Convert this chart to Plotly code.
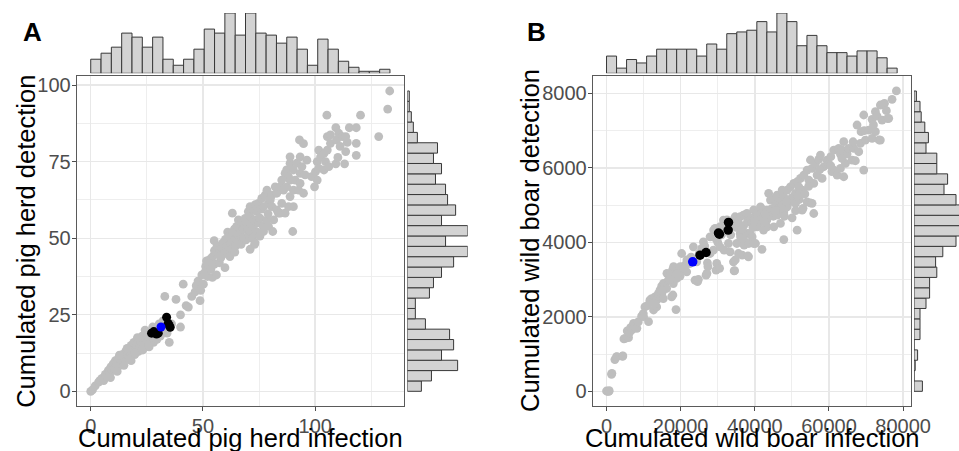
import plotly.graph_objects as go

# ---------------- Panel A : pig herds ----------------
pig_inf = [0, 0.8, 2, 3.5, 4.2,
           5, 5.8, 6.5, 7.2, 7.8, 8.5, 9,
           9.5, 10, 10.5, 11, 11.5, 12, 12.5, 13, 13.5,
           14, 14.5, 15, 15.5, 16, 16.5, 16.8, 17, 17.5, 18, 18, 18.3,
           18.8, 19.2, 19.6, 20, 20.5, 21, 21.3, 21.8, 22.2, 22.6, 22.9,
           23.5, 24, 24.5, 25, 25.5, 26, 26.5, 27,
           28, 28.5, 29, 29.5, 30, 30.5, 31, 32, 32.2,
           33, 34, 35, 36,
           38, 40, 40,
           41.2, 42.5, 43.5, 45,
           46.5, 47, 47.8, 48.7, 49, 49.5, 50.2,
           50.8, 51.2, 51.6, 52, 52.4, 53, 53.5, 53.9, 54.2, 54.6, 55, 55, 55.1,
           55.5, 56, 56.3, 56.8, 57.3, 57.6, 58, 58.3, 58.8, 59.1, 59.5, 59.8,
           60, 60.5, 60.8, 61, 61.3, 61.5, 62, 62.3, 62.8, 62.8, 63, 63.1, 63.5, 63.7, 64, 64.2, 64.3, 64.4,
           65, 65, 65.5, 65.8, 66.5, 67, 67.3, 67.8, 68, 68.2, 68.8,
           69.2, 69.5, 70, 70.2, 70.5, 71, 71, 71, 71, 71.5, 72, 72.5, 72.5, 72.8, 73, 73.2, 73.3, 73.5,
           74, 74.2, 74.7, 74.7, 75.4, 75.4, 76, 76.2, 76.8, 77, 77, 77.7,
           78.5, 78.5, 79, 79.2, 79.2, 80, 80.7, 80.7, 81.1, 81.5, 82.2,
           82.9, 82.9, 83.6, 84.4, 84.4, 85.1, 85.1, 85.9, 86.6, 86.6,
           87.3, 87.3, 88.1, 88.1, 88.8, 88.8, 88.8, 88.8, 90, 90.3, 90.3, 90.3, 91.1, 91.8,
           92.6, 93.3, 93.3, 93.3, 93, 94.1, 94.8, 94.8, 95.5, 96.3,
           98.4, 99.7, 100.1,
           100.9, 100.9, 101.6, 101.6, 102.4, 103.9, 103.9, 104.6, 105.4, 105.4, 105.2,
           106.1, 106.8, 106.8, 109.2, 109.2, 109.5, 110.1,
           110.5, 111.1, 112.1, 113.1, 113.6, 113.6, 114.3,
           115.2, 118.3, 118.3, 118.3, 120.2, 128.3, 132.3, 133.2,
           8.8, 11.8, 14.8, 17.2, 19.8, 23.2, 25.8, 12.8, 16.2, 20.8, 24.2, 27.6, 30.8]
pig_det = [0, 0.5, 1.8, 3, 3.6,
           4.2, 3.5, 5.5, 4.8, 6.8, 6, 8,
           7, 9, 7.5, 10, 8.2, 9.5, 11, 8.5, 10,
           12, 9.5, 11, 13, 10.5, 12, 14, 11, 13, 15, 10, 12.5,
           14, 16, 12, 13.5, 15, 17, 13, 15.5, 16.5, 14, 18,
           15, 17, 19, 16, 18, 14.5, 17, 19,
           16, 18, 20, 17, 19.5, 22, 18, 20.5, 23,
           31, 19, 16, 22,
           30, 21, 25,
           35, 28, 27.5, 31,
           32.5, 34.5, 36, 29.6, 33, 38, 35,
           38.8, 40.8, 42.6, 37.5, 40.9, 43, 39.9, 43.7, 37.2, 44.2, 49.2, 41.5, 46,
           45.3, 38, 47.5, 44.8, 42, 46.4, 43.7, 46.9, 48.5, 47.4, 45, 40.4,
           49.6, 47, 45.5, 52, 47.4, 50.5, 44, 48, 49.1, 50.1, 46.5, 58.2, 51.7, 48.5, 53, 45.5, 50, 47.3,
           49.6, 53.9, 51.3, 56, 51.7, 48, 55, 53, 52.8, 50, 56.5,
           49.5, 55, 53, 58.7, 51, 46.4, 52.2, 57.1, 60.3, 54.5, 50, 53.9, 59.3, 56, 48, 48.5, 61, 55.5,
           58.7, 52, 55, 61.4, 50.7, 56.6, 59.5, 63, 54, 52.2, 60.3, 64.1,
           56, 65.7, 58, 53.9, 61.4, 62.5, 60.3, 64.1, 52.2, 56, 66.8,
           59.3, 64.7, 58.2, 58.2, 66.8, 61.4, 69, 65.7, 58.2, 71.2,
           66.8, 72.3, 60.3, 70.1, 63.6, 69, 74.5, 76.6, 52.2, 65.7, 72.3, 60.3, 69, 74.5,
           65.7, 67.9, 71.2, 76.6, 82.1, 73.4, 64.7, 80.9, 70.7, 75.5,
           70.1, 66.8, 71.7,
           69, 75, 72.8, 78.8, 76.6, 72.3, 77.7, 75, 78.8, 83.2, 90.2,
           73.4, 81, 83.8, 74.3, 86.1, 82.1, 76.4,
           84.3, 80, 83.2, 74.3, 83.2, 78.3, 81.3,
           86.1, 86.1, 81, 77.1, 90.2, 83.2, 92.2, 98.1,
           4.5, 6.5, 8.5, 10.5, 12.5, 13.5, 14.8, 11.8, 14, 17.5, 20, 21, 21.5]
pig_black_inf = [27.1, 28.1, 29.3, 30.1, 33.8, 34.5, 35.4, 35.0]
pig_black_det = [19.0, 19.5, 18.7, 19.0, 24.2, 22.2, 20.9, 21.5]
pig_blue_inf = [31.3]
pig_blue_det = [21.0]

# marginal histograms (counts)
pig_inf_counts = [7, 10, 13, 20, 18, 13, 18, 7, 4, 7, 12, 22, 20, 30, 19,
                  30, 20, 19, 15, 18, 12, 4, 17, 12, 6, 3, 1, 1, 2]
pig_inf_bin_start, pig_inf_bin_width = 0.0, 4.597
pig_det_counts = [7, 12, 25, 17, 23, 21, 9, 4, 4, 11, 13, 17, 23, 30, 19,
                  30, 17, 24, 20, 19, 14, 17, 13, 15, 5, 3, 2, 1, 1]   # bottom -> top
pig_det_bin_start, pig_det_bin_width = 0.0, 3.383

# ---------------- Panel B : wild boar ----------------
boar_inf = [0, 300, 630, 720, 1350, 1440, 2250, 2700, 2790, 4320,
            4410, 4690, 5040, 5590, 5940, 6130, 6490, 6840, 7210, 7290,
            8190, 8560, 9460, 9910, 9990, 10360, 11330, 11710, 12160, 12610,
            12680, 13070, 13520, 13590, 13970, 14420, 14870, 14930, 15320, 15380,
            15770, 16220, 16290, 16670, 17120, 17570, 17840, 17900, 18020, 18090,
            18740, 18920, 19370, 19820, 19880, 20270, 20720, 21170, 21620, 21680,
            22070, 22530, 22800, 23430, 23880, 24330, 24560, 24780, 25000, 25680,
            26130, 26500, 26850, 27080, 27210, 27350, 27930, 27930, 28830, 28880,
            29280, 29500, 29550, 29730, 30000, 30500, 30630, 30680, 31000, 31540,
            31720, 32000, 32480, 32890, 33000, 33340, 33800, 34240, 34420, 34280,
            34550, 34690, 34730, 35000, 35140, 35500, 35590, 36040, 36080, 36140,
            36590, 36940, 37000, 37040, 37120, 37880, 37940, 38000, 38150, 38290,
            38380, 38740, 39000, 39190, 39280, 39640, 39680, 40000, 40180, 40540,
            40630, 40800, 41000, 41530, 41530, 41930, 42000, 42350, 42430, 42880,
            43250, 43250, 43320, 43320, 43730, 43800, 44220, 44220, 44500, 45000,
            45120, 45120, 45570, 46020, 46020, 46500, 46920, 46920, 47370, 47500,
            47820, 47820, 47820, 48000, 48720, 48720, 49000, 49600, 49600, 50000,
            50060, 50510, 50960, 50960, 51000, 51410, 51410, 51860, 52000, 52310,
            52760, 52760, 53000, 53210, 53500, 54100, 54100, 54560, 54950, 55000,
            55440, 55450, 55900, 55900, 56350, 56800, 57250, 57700, 58150, 58600,
            59500, 60000, 60500, 60800, 61290, 61290, 62190, 62640, 63090, 63090,
            63520, 63990, 63990, 64440, 64890, 65340, 66240, 66690, 67130, 67580,
            68030, 68480, 68660, 69380, 69380, 69830, 70730, 71630, 71630, 72530,
            72530, 72980, 73500, 73870, 73870, 74320, 74770, 74970, 75490, 75840,
            76120, 77020, 78190,
            11000, 13000, 15000, 17000, 19000, 21000, 33500, 36500, 39500, 42500,
            45500, 48500, 51500, 54500, 57500, 60500, 63500, 66500, 69500, 72000]
boar_det = [9, 0, 0, 18, 457, 483, 851, 923, 930, 941,
            949, 1407, 1423, 1622, 1441, 1568, 1711, 1647, 1774, 1826,
            1691, 1864, 2016, 2088, 2005, 2267, 1870, 2446, 2491, 2401,
            2183, 2536, 2267, 2452, 2625, 2715, 2822, 2631, 2491, 2900,
            2894, 2760, 3168, 2984, 3118, 2536, 3270, 2586, 2894, 3347,
            2195, 3029, 3208, 3091, 3347, 3700, 3252, 3387, 3208, 3526,
            3521, 3432, 3600, 3880, 2984, 3477, 2944, 3002, 3700, 3835,
            4014, 3900, 3118, 3168, 3450, 3347, 4148, 3700, 3790, 4331,
            4372, 4100, 3252, 3432, 4000, 3302, 3880, 4421, 4200, 4597,
            3790, 4300, 4600, 3969, 4450, 3745, 4520, 3476, 3235, 4600,
            3240, 4686, 3526, 4400, 3969, 4550, 3700, 4238, 4689, 4147,
            3655, 4731, 4450, 4058, 3924, 4779, 4237, 4550, 3633, 3611,
            3968, 4238, 4650, 4507, 4147, 3969, 4868, 4600, 3968, 4776,
            4416, 4700, 4500, 4595, 4954, 3812, 4650, 4328, 4864, 4685,
            4597, 4865, 4416, 4819, 5316, 4700, 4774, 5133, 4900, 4700,
            4416, 5178, 4998, 4730, 5267, 4900, 4506, 5088, 5402, 5000,
            4075, 4819, 5222, 4700, 4954, 5402, 5050, 5133, 5491, 5200,
            4658, 5581, 5043, 5312, 4850, 4326, 5626, 5491, 5150, 5715,
            4864, 5402, 4913, 5805, 5300, 5088, 5939, 5670, 5061, 6210,
            5047, 5984, 4774, 5581, 6118, 5805, 6226, 6342, 5715, 6029,
            6208, 6100, 6300, 5900, 5939, 6477, 5805, 6522, 5984, 6369,
            6479, 5760, 6701, 6118, 6369, 6522, 6208, 6522, 6190, 7149,
            6432, 6656, 6970, 7418, 5939, 6746, 7014, 6790, 7301, 6970,
            7507, 7391, 6747, 6746, 7686, 7283, 7704, 7732, 7534, 7320,
            7328, 7839, 8063,
            2300, 2350, 2700, 3000, 3150, 3300, 4200, 4350, 4400, 4550,
            4850, 5100, 5250, 5500, 5950, 6050, 6250, 6700, 7000, 7150]
boar_black_inf = [25230, 26850, 30200, 30450, 32820, 32900]
boar_black_det = [3656, 3727, 4250, 4220, 4330, 4535]
boar_blue_inf = [23250]
boar_blue_det = [3476]

boar_inf_counts = [10, 3, 8, 6, 10, 14, 14, 14, 14, 10, 17, 14, 23, 24, 25,
                   30, 24, 35, 30, 16, 22, 16, 12, 12, 10, 13, 13, 9, 3]
boar_inf_bin_start, boar_inf_bin_width = 0.0, 2703.0
boar_det_counts = [7, 0, 1, 3, 0, 5, 5, 5, 10, 13, 13, 19, 18, 24, 35,
                   40, 43, 41, 35, 25, 28, 19, 19, 10, 12, 9, 6, 5, 2]   # bottom -> top
boar_det_bin_start, boar_det_bin_width = 0.0, 278.0

# ---------------- labels ----------------
pig_x_title = "Cumulated pig herd infection"
pig_y_title = "Cumulated pig herd detection"
boar_x_title = "Cumulated wild boar infection"
boar_y_title = "Cumulated wild boar detection"
panel_labels = ["A", "B"]

# ---------------- figure ----------------
W, H = 959, 451
FONT = "Liberation Sans, Arial, Helvetica, sans-serif"
GREY_PT = "#BEBEBE"
BAR_FILL = "#D3D3D3"
BAR_LINE = "#383838"


def px_x(p):
    return p / W


def px_y(p):
    return 1 - p / H


main_ydom = [px_y(406), px_y(76)]
A_xdom = [px_x(76.7), px_x(404.3)]
B_xdom = [px_x(592.7), px_x(911.3)]
top_ydom = [px_y(73.3), px_y(13)]
A_rdom = [px_x(407.3), px_x(467.7)]
B_rdom = [px_x(914), 1.0]

A_xrange = [-6.25, 139.7]
A_yrange = [-4.8, 103.0]
B_xrange = [-3730, 82210]
B_yrange = [-394, 8465]


def centers(start, width, n):
    return [start + width * (i + 0.5) for i in range(n)]


fig = go.Figure()

# --- Panel A traces
fig.add_trace(go.Scatter(x=pig_inf, y=pig_det, mode="markers",
                         marker=dict(color=GREY_PT, size=8.8, line=dict(width=0)),
                         xaxis="x", yaxis="y"))
fig.add_trace(go.Scatter(x=pig_black_inf, y=pig_black_det, mode="markers",
                         marker=dict(color="black", size=9, line=dict(width=0)),
                         xaxis="x", yaxis="y"))
fig.add_trace(go.Scatter(x=pig_blue_inf, y=pig_blue_det, mode="markers",
                         marker=dict(color="#0000FF", size=9, line=dict(width=0)),
                         xaxis="x", yaxis="y"))
fig.add_trace(go.Bar(x=centers(pig_inf_bin_start, pig_inf_bin_width, len(pig_inf_counts)),
                     y=pig_inf_counts, width=pig_inf_bin_width,
                     marker=dict(color=BAR_FILL, line=dict(color=BAR_LINE, width=1)),
                     xaxis="x2", yaxis="y2"))
fig.add_trace(go.Bar(y=centers(pig_det_bin_start, pig_det_bin_width, len(pig_det_counts)),
                     x=pig_det_counts, width=pig_det_bin_width, orientation="h",
                     marker=dict(color=BAR_FILL, line=dict(color=BAR_LINE, width=1)),
                     xaxis="x3", yaxis="y3"))

# --- Panel B traces
fig.add_trace(go.Scatter(x=boar_inf, y=boar_det, mode="markers",
                         marker=dict(color=GREY_PT, size=8.8, line=dict(width=0)),
                         xaxis="x4", yaxis="y4"))
fig.add_trace(go.Scatter(x=boar_black_inf, y=boar_black_det, mode="markers",
                         marker=dict(color="black", size=9.5, line=dict(width=0)),
                         xaxis="x4", yaxis="y4"))
fig.add_trace(go.Scatter(x=boar_blue_inf, y=boar_blue_det, mode="markers",
                         marker=dict(color="#0000FF", size=9.5, line=dict(width=0)),
                         xaxis="x4", yaxis="y4"))
fig.add_trace(go.Bar(x=centers(boar_inf_bin_start, boar_inf_bin_width, len(boar_inf_counts)),
                     y=boar_inf_counts, width=boar_inf_bin_width,
                     marker=dict(color=BAR_FILL, line=dict(color=BAR_LINE, width=1)),
                     xaxis="x5", yaxis="y5"))
fig.add_trace(go.Bar(y=centers(boar_det_bin_start, boar_det_bin_width, len(boar_det_counts)),
                     x=boar_det_counts, width=boar_det_bin_width, orientation="h",
                     marker=dict(color=BAR_FILL, line=dict(color=BAR_LINE, width=1)),
                     xaxis="x6", yaxis="y6"))


def main_axis(domain, rng, dtick, minor_dtick, anchor, standoff=0):
    return dict(domain=domain, range=rng, anchor=anchor, tick0=0, dtick=dtick,
                automargin=False, ticklabelstandoff=standoff,
                showgrid=True, gridcolor="#E8E8E8", gridwidth=1.4,
                minor=dict(tick0=0, dtick=minor_dtick, showgrid=True,
                           gridcolor="#ECECEC", gridwidth=0.9),
                showline=True, mirror=True, linecolor="#5A5A5A", linewidth=1,
                ticks="outside", ticklen=4, tickwidth=1, tickcolor="#4D4D4D",
                tickfont=dict(family=FONT, size=20, color="#4D4D4D"),
                zeroline=False, tickformat="d", fixedrange=True)


def hidden_axis(domain, rng, anchor):
    return dict(domain=domain, range=rng, anchor=anchor, visible=False,
                automargin=False,
                showgrid=False, zeroline=False, fixedrange=True)


fig.update_layout(
    width=W, height=H,
    margin=dict(l=0, r=0, t=0, b=0, pad=0, autoexpand=False),
    paper_bgcolor="white", plot_bgcolor="white",
    showlegend=False, bargap=0,
    xaxis=main_axis(A_xdom, A_xrange, 50, 25, "y", -2),
    yaxis=main_axis(main_ydom, A_yrange, 25, 12.5, "x", -3),
    xaxis2=hidden_axis(A_xdom, A_xrange, "y2"),
    yaxis2=hidden_axis(top_ydom, [0, 30], "x2"),
    xaxis3=hidden_axis(A_rdom, [0, 30], "y3"),
    yaxis3=hidden_axis(main_ydom, A_yrange, "x3"),
    xaxis4=main_axis(B_xdom, B_xrange, 20000, 10000, "y4", -2),
    yaxis4=main_axis(main_ydom, B_yrange, 2000, 1000, "x4", -3),
    xaxis5=hidden_axis(B_xdom, B_xrange, "y5"),
    yaxis5=hidden_axis(top_ydom, [0, 35], "x5"),
    xaxis6=hidden_axis(B_rdom, [0, 37.5], "y6"),
    yaxis6=hidden_axis(main_ydom, B_yrange, "x6"),
)

TITLE_SIZE = 25.5
ann = []
ann.append(dict(text=pig_x_title, x=px_x(240.5), y=px_y(437.5), xref="paper", yref="paper",
                xanchor="center", yanchor="middle", showarrow=False,
                font=dict(family=FONT, size=TITLE_SIZE, color="black")))
ann.append(dict(text=boar_x_title, x=px_x(752), y=px_y(437.5), xref="paper", yref="paper",
                xanchor="center", yanchor="middle", showarrow=False,
                font=dict(family=FONT, size=TITLE_SIZE, color="black")))
ann.append(dict(text=pig_y_title, x=px_x(25.8), y=px_y(241), xref="paper", yref="paper",
                xanchor="center", yanchor="middle", showarrow=False, textangle=-90,
                font=dict(family=FONT, size=TITLE_SIZE, color="black")))
ann.append(dict(text=boar_y_title, x=px_x(530), y=px_y(241), xref="paper", yref="paper",
                xanchor="center", yanchor="middle", showarrow=False, textangle=-90,
                font=dict(family=FONT, size=TITLE_SIZE, color="black")))
ann.append(dict(text="<b>%s</b>" % panel_labels[0], x=px_x(32.2), y=px_y(32), xref="paper",
                yref="paper", xanchor="center", yanchor="middle", showarrow=False,
                font=dict(family=FONT, size=26, color="black")))
ann.append(dict(text="<b>%s</b>" % panel_labels[1], x=px_x(536.7), y=px_y(32), xref="paper",
                yref="paper", xanchor="center", yanchor="middle", showarrow=False,
                font=dict(family=FONT, size=26, color="black")))
fig.update_layout(annotations=ann)

fig.write_html("out.html", config=dict(displayModeBar=False, staticPlot=True),
               post_script="document.body.style.margin='0';document.body.style.overflow='hidden';")
